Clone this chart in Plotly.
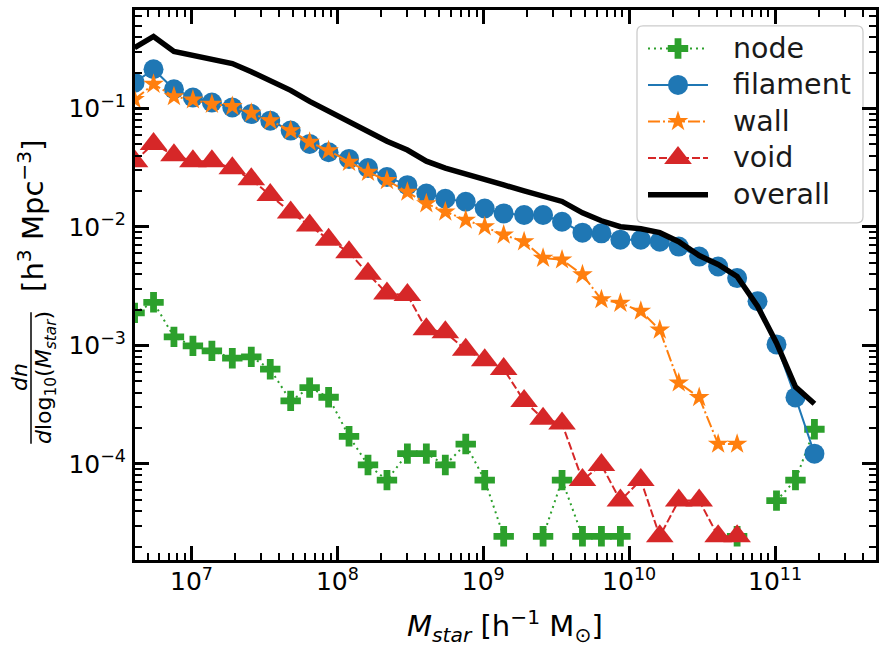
import plotly.graph_objects as go

# ---------------- data ----------------
log_mstar = [6.61, 6.74, 6.88, 7.01, 7.14, 7.28, 7.41, 7.54, 7.68, 7.81,
             7.94, 8.08, 8.21, 8.34, 8.48, 8.61, 8.74, 8.88, 9.01, 9.14,
             9.28, 9.41, 9.54, 9.68, 9.81, 9.94, 10.08, 10.21, 10.34, 10.48,
             10.61, 10.74, 10.88, 11.01, 11.14, 11.27]

node = [1.88e-3, 2.31e-3, 1.18e-3, 9.9e-4, 9.0e-4, 7.8e-4, 8.0e-4, 6.3e-4, 3.4e-4, 4.4e-4,
        3.65e-4, 1.71e-4, 9.8e-5, 7.3e-5, 1.22e-4, 1.22e-4, 9.8e-5, 1.47e-4, 7.3e-5, 2.45e-5,
        None, 2.45e-5, 7.3e-5, 2.45e-5, 2.45e-5, 2.45e-5, None, None, None, None,
        None, 2.45e-5, None, 4.9e-5, 7.3e-5, 1.96e-4]

filament = [0.165, 0.214, 0.145, 0.1236, 0.1122, 0.1019, 0.0896, 0.0788, 0.0650, 0.0502,
            0.0427, 0.0375, 0.0314, 0.0264, 0.0225, 0.0191, 0.0173, 0.0163, 0.0143, 0.0130,
            0.0126, 0.0126, 0.01106, 0.00894, 0.00882, 0.00781, 0.00779, 0.00751, 0.00682, 0.00562,
            0.00463, 0.00370, 0.00236, 0.00102, 3.64e-4, 1.22e-4]

wall = [0.119, 0.160, 0.126, 0.1183, 0.1086, 0.1039, 0.0914, 0.0788, 0.0650, 0.0519,
        0.0441, 0.0352, 0.0290, 0.0247, 0.0197, 0.0157, 0.0134, 0.01143, 0.01004, 0.00855,
        0.00751, 0.00545, 0.00528, 0.00395, 0.00244, 0.00227, 0.00195, 0.00135, 4.84e-4, 3.64e-4,
        1.47e-4, 1.47e-4, None, None, None, None]

void = [0.0359, 0.0502, 0.0403, 0.0359, 0.0359, 0.0312, 0.0252, 0.0186, 0.01324, 0.01030,
        0.00781, 0.00611, 0.00403, 0.00274, 0.00266, 0.00137, 0.00129, 9.2e-4, 7.5e-4, 6.31e-4,
        3.40e-4, 2.41e-4, 2.19e-4, 7.3e-5, 9.8e-5, 4.9e-5, 7.3e-5, 2.45e-5, 4.9e-5, 4.9e-5,
        2.45e-5, 2.45e-5, None, None, None, None]

overall = [0.325, 0.405, 0.303, 0.279, 0.260, 0.239, 0.204, 0.172, 0.142, 0.1146,
           0.0944, 0.0778, 0.0641, 0.0529, 0.0445, 0.0359, 0.0314, 0.0282, 0.0254, 0.0226,
           0.0201, 0.0183, 0.0164, 0.01316, 0.01127, 0.01004, 0.00966, 0.00894, 0.00751, 0.00573,
           0.00482, 0.00382, 0.00214, 0.00105, 4.48e-4, 3.22e-4]

series_names = ["node", "filament", "wall", "void", "overall"]

x_tickvals = [1e7, 1e8, 1e9, 1e10, 1e11]
x_ticktext = ["10<sup>7</sup>", "10<sup>8</sup>", "10<sup>9</sup>", "10<sup>10</sup>", "10<sup>11</sup>"]
y_tickvals = [1e-4, 1e-3, 1e-2, 1e-1]
y_ticktext = ["10<sup>\u22124</sup>", "10<sup>\u22123</sup>", "10<sup>\u22122</sup>", "10<sup>\u22121</sup>"]

# ---------------- styling ----------------
mass = [10 ** v for v in log_mstar]
FONT = "DejaVu Sans"
W, H = 886, 651
ML, MR, MT, MB = 135, 10, 7, 91
PW, PH = W - ML - MR, H - MT - MB


def px_x(p):
    return (p - ML) / PW


def px_y(p):
    return (H - MB - p) / PH


styles = {
    "node": dict(line=dict(color="#2ca02c", width=2, dash="2px,4px"),
                 marker=dict(symbol="cross", size=17, color="#2ca02c", line=dict(width=0))),
    "filament": dict(line=dict(color="#1f77b4", width=2),
                     marker=dict(symbol="circle", size=20, color="#1f77b4", line=dict(width=0))),
    "wall": dict(line=dict(color="#ff7f0e", width=2, dash="12px,3px,2px,3px"),
                 marker=dict(symbol="star", size=15.5, color="#ff7f0e", line=dict(width=0))),
    "void": dict(line=dict(color="#d62728", width=2, dash="8px,3px"),
                 marker=dict(symbol="triangle-up", size=24, color="#d62728", line=dict(width=0))),
    "overall": dict(line=dict(color="black", width=5.5)),
}
values = {"node": node, "filament": filament, "wall": wall, "void": void, "overall": overall}

fig = go.Figure()
for name in series_names:
    st = styles[name]
    fig.add_trace(go.Scatter(x=mass, y=values[name], name=name,
                             mode="lines+markers" if "marker" in st else "lines",
                             connectgaps=False, showlegend=False, **st))

# ---------------- custom legend (matplotlib-like) ----------------
lx0, lx1, ly0, ly1, rr = 637, 863, 23, 221, 6
rx, ry = rr / PW, rr / PH
X0, X1, Y0, Y1 = px_x(lx0), px_x(lx1), px_y(ly1), px_y(ly0)
path = (f"M {X0+rx},{Y0} L {X1-rx},{Y0} Q {X1},{Y0} {X1},{Y0+ry} L {X1},{Y1-ry} "
        f"Q {X1},{Y1} {X1-rx},{Y1} L {X0+rx},{Y1} Q {X0},{Y1} {X0},{Y1-ry} "
        f"L {X0},{Y0+ry} Q {X0},{Y0} {X0+rx},{Y0} Z")
fig.add_shape(type="path", path=path, xref="paper", yref="paper",
              fillcolor="rgba(255,255,255,0.8)", line=dict(color="#cccccc", width=1.3),
              layer="below")

row_y = [45.7, 82.3, 119.0, 155.7, 192.7]
for name, ry_px in zip(series_names, row_y):
    st = styles[name]
    yy = px_y(ry_px)
    fig.add_trace(go.Scatter(x=[px_x(648), px_x(708)], y=[yy, yy], mode="lines",
                             line=st["line"], xaxis="x2", yaxis="y2",
                             showlegend=False, hoverinfo="skip"))
    if "marker" in st:
        fig.add_trace(go.Scatter(x=[px_x(678)], y=[yy], mode="markers",
                                 marker=st["marker"], xaxis="x2", yaxis="y2",
                                 showlegend=False, hoverinfo="skip"))
    fig.add_annotation(text=name, xref="paper", yref="paper", x=px_x(731), y=yy,
                       xanchor="left", yanchor="middle", showarrow=False,
                       font=dict(family=FONT, size=28.5, color="#1a1a1a"))

# ---------------- axes ----------------
minor_x = [m * 10 ** e for e in range(6, 12) for m in range(2, 10)]
minor_y = [m * 10 ** e for e in range(-5, 0) for m in range(2, 10)]

axis_common = dict(type="log", showline=True, linecolor="black", linewidth=3, mirror="ticks",
                   ticks="inside", ticklen=14, tickwidth=2.5, tickcolor="black",
                   tickmode="array", tickfont=dict(family=FONT, size=25, color="black"),
                   showgrid=False, zeroline=False)

fig.update_layout(
    width=W, height=H, margin=dict(l=ML, r=MR, t=MT, b=MB),
    plot_bgcolor="white", paper_bgcolor="white",
    font=dict(family=FONT, color="black"),
    showlegend=False,
    xaxis=dict(**axis_common, range=[6.613, 11.692], tickvals=x_tickvals, ticktext=x_ticktext,
               ticklabelstandoff=-3,
               minor=dict(ticks="inside", ticklen=7, tickwidth=2, tickcolor="black",
                          tickmode="array", tickvals=minor_x, showgrid=False)),
    yaxis=dict(**axis_common, range=[-4.811, -0.1695], tickvals=y_tickvals, ticktext=y_ticktext,
               ticklabelstandoff=1,
               minor=dict(ticks="inside", ticklen=7, tickwidth=2, tickcolor="black",
                          tickmode="array", tickvals=minor_y, showgrid=False)),
    xaxis2=dict(overlaying="x", anchor="y2", range=[0, 1], visible=False, fixedrange=True),
    yaxis2=dict(overlaying="y", anchor="x2", range=[0, 1], visible=False, fixedrange=True),
)

# ---------------- axis titles ----------------
fig.add_annotation(text="<i>M<sub>star</sub></i> [h<sup>\u22121</sup> M<sub>\u2299</sub>]",
                   xref="paper", yref="paper", x=px_x(505), y=px_y(626),
                   xanchor="center", yanchor="middle", showarrow=False,
                   font=dict(family=FONT, size=29, color="black"))
fig.add_annotation(text="[h<sup>3</sup> Mpc<sup>\u22123</sup>]",
                   xref="paper", yref="paper", x=px_x(31), y=px_y(214),
                   xanchor="center", yanchor="middle", showarrow=False, textangle=-90,
                   font=dict(family=FONT, size=29, color="black"))
fig.add_annotation(text="<i>dn</i>",
                   xref="paper", yref="paper", x=px_x(20), y=px_y(376),
                   xanchor="center", yanchor="middle", showarrow=False, textangle=-90,
                   font=dict(family=FONT, size=22, color="black"))
fig.add_annotation(text="<i>d</i>log<sub>10</sub>(<i>M<sub>star</sub></i>)",
                   xref="paper", yref="paper", x=px_x(46), y=px_y(377),
                   xanchor="center", yanchor="middle", showarrow=False, textangle=-90,
                   font=dict(family=FONT, size=22, color="black"))
fig.add_shape(type="line", xref="paper", yref="paper",
              x0=px_x(31), x1=px_x(31), y0=px_y(311), y1=px_y(443),
              line=dict(color="black", width=1.5))

fig.write_html("out.html")
